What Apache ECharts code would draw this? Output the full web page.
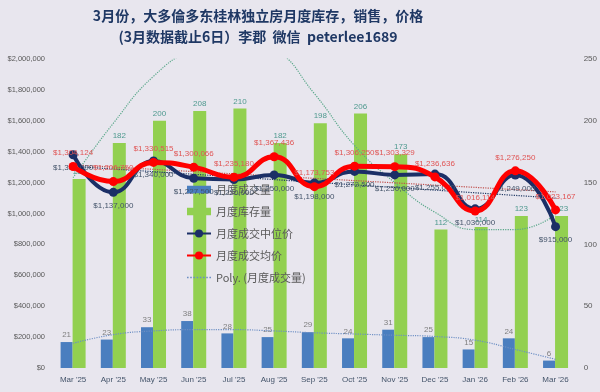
<!DOCTYPE html>
<html><head><meta charset="utf-8">
<script src="https://cdn.jsdelivr.net/npm/echarts@6/dist/echarts.min.js"></script>
<style>html,body{margin:0;padding:0;background:#e8e6ee;}#c{width:600px;height:392px;}</style>
</head><body><div id="c"></div>
<script>
const categories = ["Mar '25","Apr '25","May '25","Jun '25","Jul '25","Aug '25","Sep '25","Oct '25","Nov '25","Dec '25","Jan '26","Feb '26","Mar '26"];
const salesVolume = [21,23,33,38,28,25,29,24,31,25,15,24,6];
const inventory = [153,182,200,208,210,182,198,206,173,112,114,123,123];
const medianPrice = [1380000,1137000,1340000,1227500,1220000,1250000,1198000,1272500,1250000,1255000,1030000,1249000,915000];
const avgPrice = [1304124,1206750,1330515,1300066,1235180,1367436,1173753,1306250,1303329,1236636,1016114,1276250,1023167];
const salesPolyTrend = [20,27,30,31,31,30,28.5,27.5,26.5,25.5,22.5,15,7];
const inventoryPolyTrend = [154,198,236,258,266,258,222,180,150,126,112,112,124];
const avgLinearTrend = [1315000,null,null,null,null,null,null,null,null,null,null,null,1140000];
const medianLinearTrend = [1305000,null,null,null,null,null,null,null,null,null,null,null,1100000];
const titleLines = ['3月份，大多倫多东桂林独立房月度库存，销售，价格', '(3月数据截止6日）李郡  微信  peterlee1689'];

const fmt = v => '$' + Math.round(v).toLocaleString('en-US');
const FONT = 'Liberation Sans';
let dotPath = 'path://';
for (let i = 0; i < 8; i++) dotPath += 'M' + (i * 3) + ',0h1.5v1.5h-1.5z';
const chart = echarts.init(document.getElementById('c'));
chart.setOption({
  backgroundColor: '#e8e6ee',
  animation: false,
  graphic: titleLines.map((t, i) => ({
    type: 'text', x: 258, y: 16 + i * 21, z: 10,
    style: {text: t, textAlign: 'center', textVerticalAlign: 'middle',
      font: 'bold 14px "Noto Sans CJK SC"', fill: '#1f3864'}
  })),
  grid: {left: 53, right: 20, top: 59, bottom: 24},
  legend: {
    orient: 'vertical', left: 181, top: 179, itemGap: 11, itemWidth: 24, itemHeight: 10,
    textStyle: {fontFamily: 'Noto Sans CJK SC', fontSize: 11, color: '#595959'},
    data: [
      {name: '月度成交量', icon: 'path://M0,0h16v5h-16z'},
      {name: '月度库存量', icon: 'path://M0,0h16v5h-16z'},
      {name: '月度成交中位价'},
      {name: '月度成交均价'},
      {name: 'Poly. (月度成交量)', icon: dotPath}
    ]
  },
  xAxis: {
    type: 'category', data: categories,
    axisLine: {show: false}, axisTick: {show: false},
    axisLabel: {fontFamily: FONT, fontSize: 8, color: '#44546a', margin: 8}
  },
  yAxis: [
    {type: 'value', min: 0, max: 2000000, interval: 200000, splitLine: {show: false},
     axisLabel: {fontFamily: FONT, fontSize: 7.5, color: '#595959', formatter: v => fmt(v)}},
    {type: 'value', min: 0, max: 250, interval: 50, splitLine: {show: false},
     axisLabel: {fontFamily: FONT, fontSize: 8, color: '#595959', margin: 8}}
  ],
  series: [
    {name: '月度成交量', type: 'bar', yAxisIndex: 1, data: salesVolume, barWidth: 12, barGap: '0%',
     itemStyle: {color: '#4a7ebf'},
     label: {show: true, position: 'top', fontFamily: FONT, fontSize: 8, color: '#7f7f7f', distance: 3}},
    {name: '月度库存量', type: 'bar', yAxisIndex: 1, data: inventory, barWidth: 13,
     itemStyle: {color: '#92d050'},
     label: {show: true, position: 'top', fontFamily: FONT, fontSize: 8, color: '#4f9a8f', distance: 3}},
    {name: 'Poly. (月度成交量)', type: 'line', yAxisIndex: 1, data: salesPolyTrend, smooth: true, symbol: 'none', silent: true,
     itemStyle: {color: '#6d8fc4'},
     lineStyle: {color: '#6d8fc4', width: 1.2, type: 'dotted'}, z: 3},
    {name: 'invPoly', type: 'line', yAxisIndex: 1, data: inventoryPolyTrend, smooth: true, symbol: 'none', silent: true,
     lineStyle: {color: '#5aa88a', width: 1.2, type: 'dotted'}, z: 3},
    {name: 'avgTrend', type: 'line', yAxisIndex: 0, data: avgLinearTrend, connectNulls: true, symbol: 'none', silent: true,
     lineStyle: {color: '#c0504d', width: 1.2, type: 'dotted'}, z: 3},
    {name: 'medTrend', type: 'line', yAxisIndex: 0, data: medianLinearTrend, connectNulls: true, symbol: 'none', silent: true,
     lineStyle: {color: '#1f3864', width: 1.2, type: 'dotted'}, z: 3},
    {name: '月度成交中位价', type: 'line', yAxisIndex: 0, data: medianPrice, smooth: true,
     symbol: 'circle', symbolSize: 9,
     lineStyle: {color: '#1b2f66', width: 4}, itemStyle: {color: '#1b2f66'},
     label: {show: true, position: 'bottom', distance: 5, fontFamily: FONT, fontSize: 8, color: '#44546a', formatter: p => fmt(p.value)}, z: 5},
    {name: '月度成交均价', type: 'line', yAxisIndex: 0, data: avgPrice, smooth: true,
     symbol: 'circle', symbolSize: 9,
     lineStyle: {color: '#ff0000', width: 5}, itemStyle: {color: '#ff0000'},
     label: {show: true, position: 'top', distance: 5, fontFamily: FONT, fontSize: 8, color: '#e05555', formatter: p => fmt(p.value)}, z: 6}
  ]
});
</script></body></html>
